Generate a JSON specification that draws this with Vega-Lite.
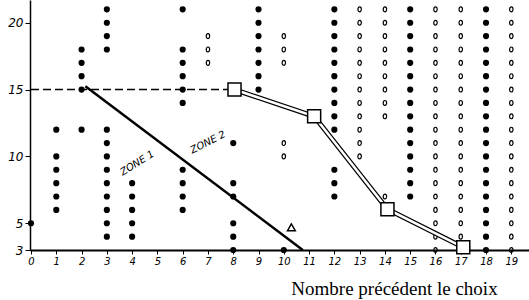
{
  "$schema": "https://vega.github.io/schema/vega-lite/v6.json",
  "width": 499,
  "height": 250,
  "autosize": "none",
  "padding": {"left": 30, "top": 0, "right": 0, "bottom": 50},
  "background": "white",
  "config": {"view": {"stroke": null}},
  "datasets": {
    "pts": [
      {"c":"plein","x":0,"y":5},
      {"c":"plein","x":1,"y":6},{"c":"plein","x":1,"y":7},{"c":"plein","x":1,"y":8},{"c":"plein","x":1,"y":9},{"c":"plein","x":1,"y":10},{"c":"plein","x":1,"y":12},
      {"c":"plein","x":2,"y":12},{"c":"plein","x":2,"y":15},{"c":"plein","x":2,"y":16},{"c":"plein","x":2,"y":17},{"c":"plein","x":2,"y":18},
      {"c":"plein","x":3,"y":4},{"c":"plein","x":3,"y":5},{"c":"plein","x":3,"y":6},{"c":"plein","x":3,"y":7},{"c":"plein","x":3,"y":8},{"c":"plein","x":3,"y":9},{"c":"plein","x":3,"y":10},{"c":"plein","x":3,"y":11},{"c":"plein","x":3,"y":12},{"c":"plein","x":3,"y":18},{"c":"plein","x":3,"y":19},{"c":"plein","x":3,"y":20},{"c":"plein","x":3,"y":21},
      {"c":"plein","x":4,"y":4},{"c":"plein","x":4,"y":5},{"c":"plein","x":4,"y":6},{"c":"plein","x":4,"y":7},{"c":"plein","x":4,"y":8},
      {"c":"plein","x":6,"y":6},{"c":"plein","x":6,"y":7},{"c":"plein","x":6,"y":8},{"c":"plein","x":6,"y":9},{"c":"plein","x":6,"y":14},{"c":"plein","x":6,"y":15},{"c":"plein","x":6,"y":16},{"c":"plein","x":6,"y":17},{"c":"plein","x":6,"y":18},{"c":"plein","x":6,"y":21},
      {"c":"plein","x":8,"y":3},{"c":"plein","x":8,"y":4},{"c":"plein","x":8,"y":5},{"c":"plein","x":8,"y":7},{"c":"plein","x":8,"y":8},{"c":"plein","x":8,"y":11},
      {"c":"plein","x":9,"y":15},{"c":"plein","x":9,"y":16},{"c":"plein","x":9,"y":17},{"c":"plein","x":9,"y":18},{"c":"plein","x":9,"y":19},{"c":"plein","x":9,"y":20},{"c":"plein","x":9,"y":21},
      {"c":"plein","x":10,"y":3},
      {"c":"plein","x":12,"y":7},{"c":"plein","x":12,"y":8},{"c":"plein","x":12,"y":9},{"c":"plein","x":12,"y":12},{"c":"plein","x":12,"y":13},{"c":"plein","x":12,"y":14},{"c":"plein","x":12,"y":15},{"c":"plein","x":12,"y":16},{"c":"plein","x":12,"y":17},{"c":"plein","x":12,"y":18},{"c":"plein","x":12,"y":19},{"c":"plein","x":12,"y":20},{"c":"plein","x":12,"y":21},
      {"c":"plein","x":15,"y":7},{"c":"plein","x":15,"y":8},{"c":"plein","x":15,"y":9},{"c":"plein","x":15,"y":10},{"c":"plein","x":15,"y":11},{"c":"plein","x":15,"y":12},{"c":"plein","x":15,"y":13},{"c":"plein","x":15,"y":14},{"c":"plein","x":15,"y":15},{"c":"plein","x":15,"y":16},{"c":"plein","x":15,"y":17},{"c":"plein","x":15,"y":18},{"c":"plein","x":15,"y":19},{"c":"plein","x":15,"y":20},{"c":"plein","x":15,"y":21},
      {"c":"plein","x":18,"y":3},{"c":"plein","x":18,"y":4},{"c":"plein","x":18,"y":5},{"c":"plein","x":18,"y":6},{"c":"plein","x":18,"y":7},{"c":"plein","x":18,"y":8},{"c":"plein","x":18,"y":9},{"c":"plein","x":18,"y":10},{"c":"plein","x":18,"y":11},{"c":"plein","x":18,"y":12},{"c":"plein","x":18,"y":13},{"c":"plein","x":18,"y":14},{"c":"plein","x":18,"y":15},{"c":"plein","x":18,"y":16},{"c":"plein","x":18,"y":17},{"c":"plein","x":18,"y":18},{"c":"plein","x":18,"y":19},{"c":"plein","x":18,"y":20},{"c":"plein","x":18,"y":21},
      {"c":"vide","x":7,"y":17},{"c":"vide","x":7,"y":18},{"c":"vide","x":7,"y":19},
      {"c":"vide","x":10,"y":10},{"c":"vide","x":10,"y":11},{"c":"vide","x":10,"y":17},{"c":"vide","x":10,"y":18},{"c":"vide","x":10,"y":19},
      {"c":"vide","x":13,"y":10},{"c":"vide","x":13,"y":11},{"c":"vide","x":13,"y":12},{"c":"vide","x":13,"y":13},{"c":"vide","x":13,"y":14},{"c":"vide","x":13,"y":15},{"c":"vide","x":13,"y":16},{"c":"vide","x":13,"y":17},{"c":"vide","x":13,"y":18},{"c":"vide","x":13,"y":19},{"c":"vide","x":13,"y":20},{"c":"vide","x":13,"y":21},
      {"c":"vide","x":14,"y":7},{"c":"vide","x":14,"y":13},{"c":"vide","x":14,"y":14},{"c":"vide","x":14,"y":15},{"c":"vide","x":14,"y":16},{"c":"vide","x":14,"y":17},{"c":"vide","x":14,"y":18},{"c":"vide","x":14,"y":19},{"c":"vide","x":14,"y":20},{"c":"vide","x":14,"y":21},
      {"c":"vide","x":16,"y":3},{"c":"vide","x":16,"y":4},{"c":"vide","x":16,"y":5},{"c":"vide","x":16,"y":6},{"c":"vide","x":16,"y":7},{"c":"vide","x":16,"y":8},{"c":"vide","x":16,"y":9},{"c":"vide","x":16,"y":10},{"c":"vide","x":16,"y":11},{"c":"vide","x":16,"y":12},{"c":"vide","x":16,"y":13},{"c":"vide","x":16,"y":14},{"c":"vide","x":16,"y":15},{"c":"vide","x":16,"y":16},{"c":"vide","x":16,"y":17},{"c":"vide","x":16,"y":18},{"c":"vide","x":16,"y":19},{"c":"vide","x":16,"y":20},{"c":"vide","x":16,"y":21},
      {"c":"vide","x":17,"y":4},{"c":"vide","x":17,"y":5},{"c":"vide","x":17,"y":6},{"c":"vide","x":17,"y":7},{"c":"vide","x":17,"y":8},{"c":"vide","x":17,"y":9},{"c":"vide","x":17,"y":10},{"c":"vide","x":17,"y":11},{"c":"vide","x":17,"y":12},{"c":"vide","x":17,"y":13},{"c":"vide","x":17,"y":14},{"c":"vide","x":17,"y":15},{"c":"vide","x":17,"y":16},{"c":"vide","x":17,"y":17},{"c":"vide","x":17,"y":18},{"c":"vide","x":17,"y":19},{"c":"vide","x":17,"y":20},{"c":"vide","x":17,"y":21},
      {"c":"vide","x":19,"y":3},{"c":"vide","x":19,"y":4},{"c":"vide","x":19,"y":5},{"c":"vide","x":19,"y":6},{"c":"vide","x":19,"y":7},{"c":"vide","x":19,"y":8},{"c":"vide","x":19,"y":9},{"c":"vide","x":19,"y":10},{"c":"vide","x":19,"y":11},{"c":"vide","x":19,"y":12},{"c":"vide","x":19,"y":13},{"c":"vide","x":19,"y":14},{"c":"vide","x":19,"y":15},{"c":"vide","x":19,"y":16},{"c":"vide","x":19,"y":17},{"c":"vide","x":19,"y":18},{"c":"vide","x":19,"y":19},{"c":"vide","x":19,"y":20},{"c":"vide","x":19,"y":21}
    ],
    "carres": [
      {"x":8.05,"y":15},{"x":11.2,"y":13},{"x":14.1,"y":6.05},{"x":17.1,"y":3.2}
    ],
    "pointille": [{"x":0,"y":15},{"x":7.8,"y":15}],
    "frontiere": [{"x":2.15,"y":15.25},{"x":10.75,"y":3}],
    "triangle": [{"x":10.3,"y":4.7}],
    "zone1": [{"x":4.2,"y":9.5,"t":"ZONE 1"}],
    "zone2": [{"x":7.0,"y":11.05,"t":"ZONE 2"}]
  },
  "encoding": {
    "x": {"field":"x","type":"quantitative","scale":{"domain":[-0.04,19.7],"nice":false,"zero":false},
      "axis":{"values":[0,1,2,3,4,5,6,7,8,9,10,11,12,13,14,15,16,17,18,19],"grid":false,"domainColor":"black","domainWidth":2,"tickColor":"black","tickSize":4,"tickWidth":1,"labelFont":"DejaVu Sans","labelFontStyle":"italic","labelFontSize":10,"labelColor":"black","labelPadding":2,"labelFlush":false,
        "title":"Nombre précédent le choix","titleFont":"Liberation Serif","titleFontSize":19,"titleFontWeight":"normal","titleColor":"black","titleX":364,"titleY":44,"titleAlign":"center","titleBaseline":"alphabetic"}},
    "y": {"field":"y","type":"quantitative","scale":{"domain":[3,21.7],"nice":false,"zero":false},
      "axis":{"values":[3,5,10,15,20],"grid":false,"domainColor":"black","domainWidth":1.5,"tickColor":"black","tickSize":5,"tickWidth":1,"labelFont":"DejaVu Sans","labelFontStyle":"italic","labelFontSize":12,"labelColor":"black","labelPadding":2,"title":null}}
  },
  "layer": [
    {"data":{"name":"pointille"},"mark":{"type":"line","color":"black","strokeWidth":1.4,"strokeDash":[8,4]}},
    {"data":{"name":"frontiere"},"mark":{"type":"line","color":"black","strokeWidth":2.5}},
    {"data":{"name":"pts"},"transform":[{"filter":"datum.c === 'plein'"}],"mark":{"type":"point","shape":"circle","filled":true,"color":"black","size":38,"opacity":1}},
    {"data":{"name":"pts"},"transform":[{"filter":"datum.c === 'vide'"}],"mark":{"type":"point","shape":"M0,-1 A0.7,1 0 1,1 0,1 A0.7,1 0 1,1 0,-1 Z","filled":false,"color":"black","strokeWidth":1.2,"size":24,"opacity":1}},
    {"data":{"name":"carres"},"mark":{"type":"line","color":"black","strokeWidth":5}},
    {"data":{"name":"carres"},"mark":{"type":"line","color":"white","strokeWidth":2.6}},
    {"data":{"name":"carres"},"mark":{"type":"point","shape":"square","filled":true,"fill":"white","stroke":"black","strokeWidth":1.5,"size":170,"opacity":1}},
    {"data":{"name":"triangle"},"mark":{"type":"point","shape":"triangle-up","filled":false,"color":"black","strokeWidth":1.5,"size":60,"opacity":1}},
    {"data":{"name":"zone1"},"mark":{"type":"text","angle":-32,"font":"DejaVu Sans","fontStyle":"italic","fontSize":10,"letterSpacing":2,"color":"black"},"encoding":{"text":{"field":"t"}}},
    {"data":{"name":"zone2"},"mark":{"type":"text","angle":-27,"font":"DejaVu Sans","fontStyle":"italic","fontSize":10,"letterSpacing":2,"color":"black"},"encoding":{"text":{"field":"t"}}}
  ]
}
